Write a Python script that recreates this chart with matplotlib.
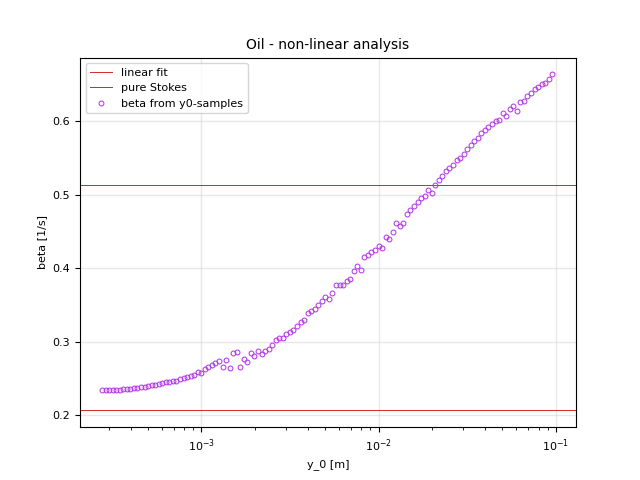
import matplotlib
matplotlib.use("Agg")
import matplotlib.pyplot as plt

# y0 samples [m]
y0 = [2.754e-4, 2.884e-4, 3.020e-4, 3.162e-4, 3.311e-4, 3.467e-4, 3.631e-4,
      3.802e-4, 3.981e-4, 4.169e-4, 4.365e-4, 4.571e-4, 4.786e-4, 5.012e-4,
      5.248e-4, 5.495e-4, 5.754e-4, 6.026e-4, 6.310e-4, 6.607e-4, 6.918e-4,
      7.244e-4, 7.586e-4, 7.943e-4, 8.318e-4, 8.710e-4, 9.120e-4, 9.550e-4,
      1.000e-3, 1.047e-3, 1.096e-3, 1.148e-3, 1.202e-3, 1.259e-3, 1.318e-3,
      1.380e-3, 1.445e-3, 1.514e-3, 1.585e-3, 1.660e-3, 1.738e-3, 1.820e-3,
      1.905e-3, 1.995e-3, 2.089e-3, 2.188e-3, 2.291e-3, 2.399e-3, 2.512e-3,
      2.630e-3, 2.754e-3, 2.884e-3, 3.020e-3, 3.162e-3, 3.311e-3, 3.467e-3,
      3.631e-3, 3.802e-3, 3.981e-3, 4.169e-3, 4.365e-3, 4.571e-3, 4.786e-3,
      5.012e-3, 5.248e-3, 5.495e-3, 5.754e-3, 6.026e-3, 6.310e-3, 6.607e-3,
      6.918e-3, 7.244e-3, 7.586e-3, 7.943e-3, 8.318e-3, 8.710e-3, 9.120e-3,
      9.550e-3,
      1.000e-2, 1.047e-2, 1.096e-2, 1.148e-2, 1.202e-2, 1.259e-2, 1.318e-2,
      1.380e-2, 1.445e-2, 1.514e-2, 1.585e-2, 1.660e-2, 1.738e-2, 1.820e-2,
      1.905e-2, 1.995e-2, 2.089e-2, 2.188e-2, 2.291e-2, 2.399e-2, 2.512e-2,
      2.630e-2, 2.754e-2, 2.884e-2, 3.020e-2, 3.162e-2, 3.311e-2, 3.467e-2,
      3.631e-2, 3.802e-2, 3.981e-2, 4.169e-2, 4.365e-2, 4.571e-2, 4.786e-2,
      5.012e-2, 5.248e-2, 5.495e-2, 5.754e-2, 6.026e-2, 6.310e-2, 6.607e-2,
      6.918e-2, 7.244e-2, 7.586e-2, 7.943e-2, 8.318e-2, 8.710e-2, 9.120e-2,
      9.550e-2]

# beta [1/s] for each sample
beta = [0.2337, 0.2337, 0.2338, 0.2340, 0.2345, 0.2348, 0.2352, 0.2358,
        0.2362, 0.2368, 0.2375, 0.2382, 0.2390, 0.2398, 0.2405, 0.2415,
        0.2425, 0.2435, 0.2445, 0.2458, 0.2470, 0.2465, 0.2495, 0.2510,
        0.2520, 0.2540, 0.2545, 0.2585,
        0.2580, 0.2625, 0.2660, 0.2680, 0.2715, 0.2740, 0.2650, 0.2745,
        0.2645, 0.2850, 0.2865, 0.2660, 0.2765, 0.2730, 0.2840, 0.2800,
        0.2875, 0.2830, 0.2880, 0.2900, 0.2960, 0.3020, 0.3045, 0.3050,
        0.3110, 0.3135, 0.3160, 0.3215, 0.3270, 0.3290, 0.3385, 0.3420,
        0.3450, 0.3500, 0.3560, 0.3605, 0.3580, 0.3660, 0.3775, 0.3775,
        0.3775, 0.3830, 0.3855, 0.3970, 0.4030, 0.3980, 0.4150, 0.4180,
        0.4220, 0.4250,
        0.4300, 0.4280, 0.4420, 0.4400, 0.4490, 0.4620, 0.4580, 0.4620,
        0.4740, 0.4790, 0.4850, 0.4900, 0.4960, 0.4990, 0.5070, 0.5030,
        0.5130, 0.5200, 0.5260, 0.5320, 0.5370, 0.5410, 0.5480, 0.5500,
        0.5560, 0.5620, 0.5680, 0.5740, 0.5770, 0.5840, 0.5880, 0.5920,
        0.5960, 0.6000, 0.6020, 0.6110, 0.6080, 0.6170, 0.6210, 0.6140,
        0.6260, 0.6280, 0.6350, 0.6390, 0.6440, 0.6470, 0.6510, 0.6530,
        0.6580, 0.6640]

beta_linear = 0.2068
beta_stokes = 0.514

fig, ax = plt.subplots(figsize=(6.4, 4.8), dpi=100)
ax.axhline(beta_linear, color="tab:red", lw=0.7, label="linear fit")
ax.axhline(beta_stokes, color="#7a4a4a", lw=0.7, label="pure Stokes")
ax.plot(y0, beta, "o", ms=3.5, mfc="none", mec="#b22ee8", mew=0.7,
        label="beta from y0-samples")

ax.set_xscale("log")
ax.set_xlim(2.07e-4, 0.13)
ax.set_ylim(0.1836, 0.687)
ax.grid(True, color="#dddddd", lw=1, alpha=0.7)
ax.tick_params(labelsize=8)
ax.set_xlabel("y_0 [m]", fontsize=8)
ax.set_ylabel("beta [1/s]", fontsize=8)
ax.set_title("Oil - non-linear analysis", fontsize=10)
ax.legend(loc="upper left", fontsize=8)

fig.savefig("out.png")
